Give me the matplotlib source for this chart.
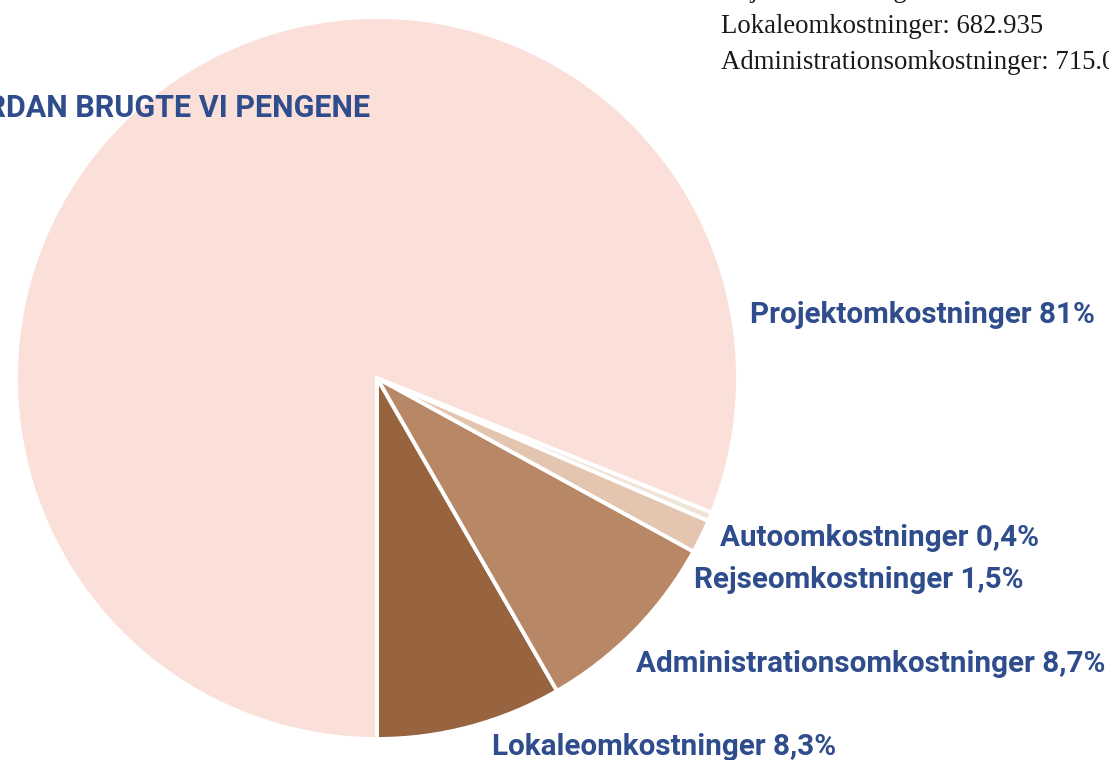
import matplotlib
matplotlib.use("Agg")
import matplotlib.pyplot as plt

# ---- data ----
categories = ["Lokaleomkostninger", "Administrationsomkostninger",
              "Rejseomkostninger", "Autoomkostninger", "Projektomkostninger"]
shares = [8.3, 8.7, 1.5, 0.4, 81]
share_labels = ["8,3", "8,7", "1,5", "0,4", "81"]
colors = ["#97643f", "#b88866", "#e3c5b0", "#f0e3d8", "#fbdfd9"]
title = "HVORDAN BRUGTE VI PENGENE"
amount_lines = ["Rejseomkostninger:", "Lokaleomkostninger: 682.935",
                "Administrationsomkostninger: 715.000"]

W, H = 1109, 760
fig = plt.figure(figsize=(W / 100, H / 100), dpi=100)
ax = fig.add_axes([0, 0, 1, 1])

def py(y):
    return H - y

ax.pie(shares, colors=colors, startangle=270, counterclock=True,
       center=(377, py(378)), radius=361, frame=True,
       wedgeprops=dict(edgecolor="white", linewidth=2.8))
ax.set_xlim(0, W)
ax.set_ylim(0, H)
ax.set_aspect("equal")
ax.axis("off")

blue = "#2f4d8c"
sans = ["Roboto", "DejaVu Sans"]
fs = 21.3
label_pos = {
    "Lokaleomkostninger": (492, 755),
    "Administrationsomkostninger": (636, 672),
    "Rejseomkostninger": (694, 588),
    "Autoomkostninger": (720, 546),
    "Projektomkostninger": (750, 323),
}
for cat, lab in zip(categories, share_labels):
    x, y = label_pos[cat]
    ax.text(x, py(y), f"{cat} {lab}%", color=blue, fontsize=fs,
            fontweight="semibold", family=sans, ha="left", va="baseline")

ax.text(370, py(117), title, color=blue, fontsize=22.0, fontweight="semibold",
        family=sans, ha="right", va="baseline")

for i, line in enumerate(amount_lines):
    ax.text(721, py(-3 + 36 * i), line, color="#1a1a1a", fontsize=19.3,
            family=["Liberation Serif", "DejaVu Serif"], ha="left",
            va="baseline")

fig.savefig("out.png", dpi=100, facecolor="white")
